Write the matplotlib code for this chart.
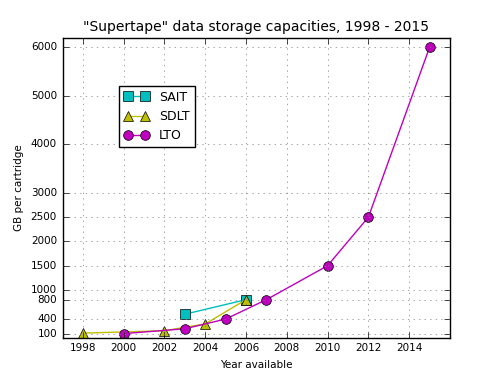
import matplotlib
matplotlib.use('Agg')
from matplotlib import pyplot as plt

plt.style.use('classic')

# data
sait_years = [2003, 2006]
sait_gb = [500, 800]
sdlt_years = [1998, 2002, 2004, 2006]
sdlt_gb = [110, 160, 300, 800]
lto_years = [2000, 2003, 2005, 2007, 2010, 2012, 2015]
lto_gb = [100, 200, 400, 800, 1500, 2500, 6000]

x_ticks = list(range(1998, 2015, 2))
y_ticks = [100, 400, 800, 1000, 1500, 2000, 2500, 3000, 4000, 5000, 6000]

fig = plt.figure(figsize=(5, 3.75), dpi=100, facecolor='white')
ax = fig.add_subplot(111)
fig.subplots_adjust(left=0.125, right=0.9, bottom=0.1, top=0.9)

ax.plot(sait_years, sait_gb, 'cs-', markersize=7, label='SAIT')
ax.plot(sdlt_years, sdlt_gb, 'y^-', markersize=7, label='SDLT')
ax.plot(lto_years, lto_gb, 'mo-', markersize=7, label='LTO')

ax.set_xlim(1997, 2016)
ax.set_ylim(20, 6200)
ax.set_xticks(x_ticks)
ax.set_yticks(y_ticks)
ax.ticklabel_format(useOffset=False, style='plain')
ax.tick_params(labelsize=7.5)
ax.grid(True, color='0.5')

ax.set_title('"Supertape" data storage capacities, 1998 - 2015', fontsize=10)
ax.set_xlabel('Year available', fontsize=7.5)
ax.set_ylabel('GB per cartridge', fontsize=7.5)

ax.legend(loc='upper left', bbox_to_anchor=(0.13, 0.86), fontsize=9, numpoints=2)

plt.savefig('out.png', dpi=100, facecolor='white')
